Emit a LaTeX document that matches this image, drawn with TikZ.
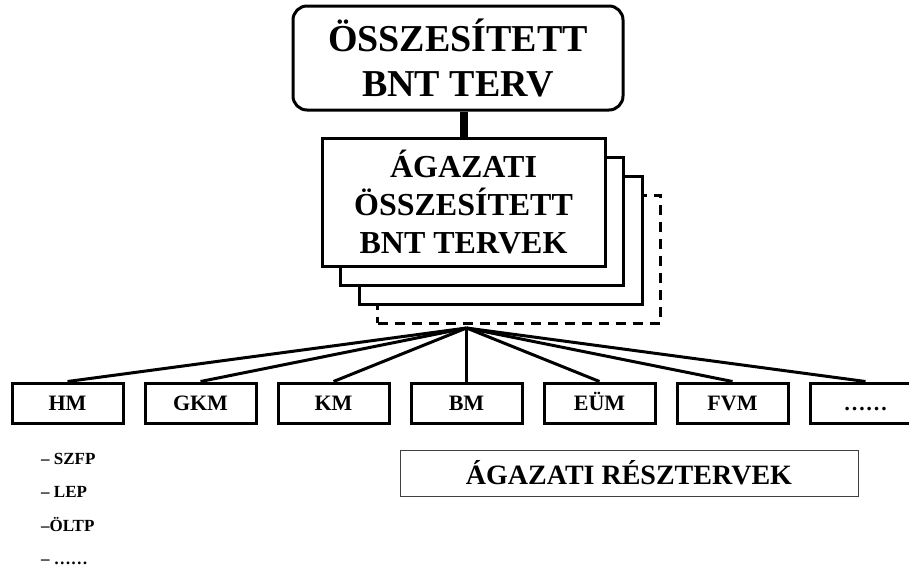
\documentclass[tikz,border=0pt]{standalone}
\usepackage{fontspec}
\setmainfont{Liberation Serif}
\begin{document}
\begin{tikzpicture}[x=1pt, y=-1pt,
    lap/.style={draw, line width=3pt, fill=white, minimum width=283pt,
      minimum height=128pt, inner sep=0pt},
    tarca/.style={draw, line width=3pt, minimum width=111pt,
      minimum height=40pt, inner sep=0pt, text height=15pt, text depth=0pt,
      font=\fontsize{22}{22}\selectfont\bfseries},
    sor/.style={anchor=base west, inner sep=0pt, font=\fontsize{17}{17}\selectfont\bfseries}]

    \useasboundingbox (0,0) rectangle (909,568);
    \clip (0,0) rectangle (909,568);

    % osszesitett terv
    \node[draw, line width=3pt, rounded corners=14pt, minimum width=330pt,
    minimum height=104pt, align=center,
    font=\fontsize{38}{45}\selectfont\bfseries] (terv) at (458,58)
    {ÖSSZESÍTETT\\BNT TERV};

    % agazati tervek, egymas mogott
    \node[lap, dash pattern=on 10pt off 7pt] (lap4) at (519,259) {};
    \node[lap] (lap3) at (501,240) {};
    \node[lap] (lap2) at (482,221) {};
    \node[lap, align=center, font=\fontsize{32}{38}\selectfont\bfseries]
    (lap1) at (463.5,202) {ÁGAZATI\\ÖSSZESÍTETT\\BNT TERVEK};

    \draw[line width=8pt] (lap1.north) -- (lap1.north |- terv.south);

    % miniszteriumok
    \foreach \nev [count=\i] in {HM,GKM,KM,BM,EÜM,FVM,……}
      \node[tarca] (m\i) at (67.5+133*\i-133, 403) {\nev};

    \coordinate (kozep) at (m4.north |- 0,328);
    \foreach \i in {1,2,3,5,6,7}
      \draw[line width=3pt] (kozep) -- (m\i.north);
    \draw[line width=2.5pt] (kozep) -- (m4.north);

    \node[draw=black!75, line width=1pt, minimum width=458pt, minimum height=46pt,
    font=\fontsize{28}{28}\selectfont\bfseries] (resz) at (629,473)
    {ÁGAZATI RÉSZTERVEK};

    % HM alatti felsorolas
    \foreach \t [count=\i] in {– SZFP,– LEP,–ÖLTP,– ……}
      \node[sor] (hm\i) at (41, 430.5+33.5*\i) {\t};

\end{tikzpicture}
\end{document}
